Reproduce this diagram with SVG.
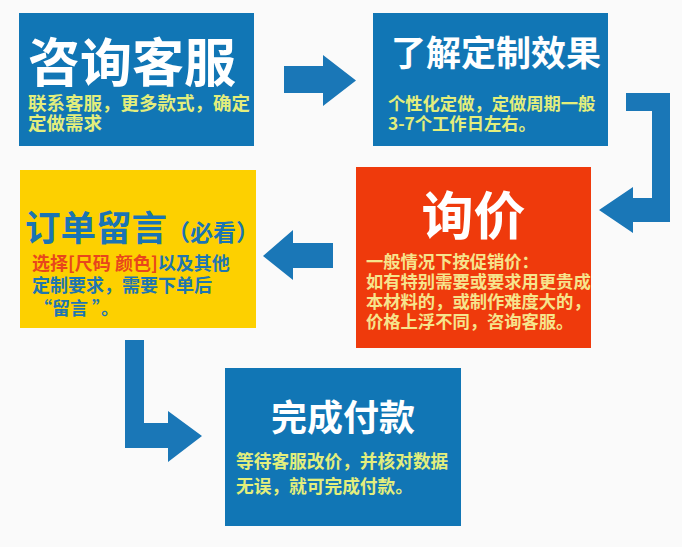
<svg xmlns="http://www.w3.org/2000/svg" width="682" height="547" viewBox="0 0 682 547">
<style>
text{font-family:"Noto Sans CJK SC","Noto Sans",sans-serif;font-weight:700}
.blue{fill:#1176b5}
.arrow{fill:#1a77b7}
.title{fill:#ffffff}
.sub{fill:#e3ee7c}
.rsub{fill:#f6e48c;font-size:17.3px}
.ysub{fill:#1f76b0;font-size:18px}
</style>
<rect width="682" height="547" fill="#fafafa"/>
<g id="node-consult">
<rect class="blue" x="19" y="13" width="235" height="133"/>
<text class="title" x="28" y="82" font-size="52">咨询客服</text>
<text class="sub" x="28" y="110" style="font-size:18.5px"><tspan x="28" y="110">联系客服，更多款式，确定</tspan><tspan x="28" y="130">定做需求</tspan></text>
</g>
<g id="node-effect">
<rect class="blue" x="373" y="13" width="235" height="133"/>
<text class="title" x="391" y="66" font-size="35">了解定制效果</text>
<text class="sub" x="388" y="110" style="font-size:17.3px"><tspan x="388" y="110">个性化定做，定做周期一般</tspan><tspan x="388" y="130">3-7个工作日左右。</tspan></text>
</g>
<g id="node-price">
<rect x="356" y="167" width="235" height="181" fill="#ef3a0c"/>
<text class="title" x="473.5" y="235" font-size="52" text-anchor="middle">询价</text>
<text class="rsub" x="366" y="268"><tspan x="366" y="268">一般情况下按促销价：</tspan><tspan x="366" y="288">如有特别需要或要求用更贵成</tspan><tspan x="366" y="308">本材料的，或制作难度大的，</tspan><tspan x="366" y="328">价格上浮不同，咨询客服。</tspan></text>
</g>
<g id="node-order">
<rect x="20" y="170" width="236" height="158" fill="#fdd000"/>
<text x="25" y="241" font-size="35.5" fill="#1a74b4">订单留言<tspan font-size="23">（必看）</tspan></text>
<text class="ysub" x="32" y="270"><tspan x="32" y="270" fill="#e8461c">选择[尺码 颜色]</tspan><tspan>以及其他</tspan><tspan x="32" y="292">定制要求，需要下单后</tspan><tspan x="34" y="315">“留言 ”。</tspan></text>
</g>
<g id="node-pay">
<rect class="blue" x="225" y="368" width="236" height="158"/>
<text class="title" x="343" y="431" font-size="36" text-anchor="middle">完成付款</text>
<text class="sub" x="236" y="468" style="font-size:17.7px"><tspan x="236" y="468">等待客服改价，并核对数据</tspan><tspan x="236" y="493">无误，就可完成付款。</tspan></text>
</g>
<g id="connectors">
<polygon class="arrow" points="284,66 323,66 323,55 356,80.5 323,106 323,93 284,93"/>
<polygon class="arrow" points="626,93 670,93 670,222 633,222 633,233 599,210 633,187 633,198 652,198 652,111 626,111"/>
<polygon class="arrow" points="333,243 293,243 293,230 263,256 293,280 293,268 333,268"/>
<polygon class="arrow" points="125,340 144,340 144,423 168,423 168,411 202,436 168,462 168,448 125,448"/>
</g>
</svg>
